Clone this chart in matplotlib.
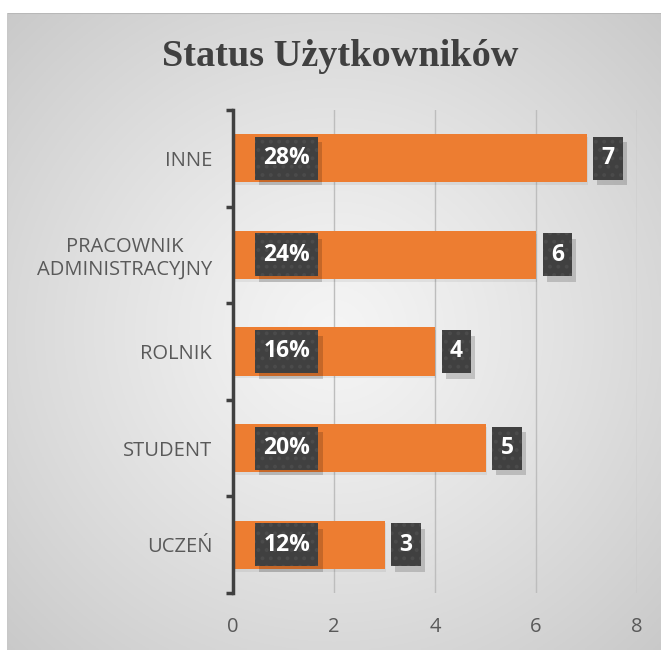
import numpy as np
import matplotlib
matplotlib.use('Agg')
import matplotlib.pyplot as plt
import matplotlib.patheffects as pe

# Dane
categories = ['UCZEŃ', 'STUDENT', 'ROLNIK', 'PRACOWNIK\nADMINISTRACYJNY', 'INNE']
counts = [3, 5, 4, 6, 7]
percents = ['12%', '20%', '16%', '24%', '28%']
xticks = [0, 2, 4, 6, 8]

plt.rcParams['hatch.linewidth'] = 1.6


class PlainShadow(pe.SimplePatchShadow):
    """Cień bez kreskowania (hatch) pola etykiety"""

    def _update_gc(self, gc, new_gc_dict):
        gc = super()._update_gc(gc, new_gc_dict)
        gc.set_hatch(None)
        return gc


W, H = 661, 650
fig = plt.figure(figsize=(W / 100, H / 100), dpi=100)
fig.patch.set_facecolor('white')

# Tło z gradientem radialnym
bg = fig.add_axes([7 / W, 0, 1 - 7 / W, 1 - 13 / H])
yy, xx = np.mgrid[-1:1:300j, -1:1:300j]
r = np.sqrt(xx ** 2 + yy ** 2) / np.sqrt(2)
grad = 0.96 - 0.17 * r ** 1.2
bg.imshow(np.dstack([grad] * 3), extent=[0, 1, 0, 1], aspect='auto')
bg.set_xlim(0, 1)
bg.set_ylim(0, 1)
bg.axis('off')
bg.plot([0, 1], [1, 1], color='#b8b8b8', lw=1.5, transform=bg.transAxes)
bg.plot([0, 0], [0, 1], color='#c8c8c8', lw=1.5, transform=bg.transAxes)

fig.text(340 / W, 1 - 57 / H, 'Status Użytkowników', ha='center', va='center',
         fontsize=27.5, fontweight='bold', family='Liberation Serif', color='#404040')

ax = fig.add_axes([233 / W, 1 - 593 / H, (637 - 233) / W, (593 - 110) / H])
ax.patch.set_alpha(0)
y = np.arange(len(categories))
ax.barh(y, counts, height=0.5, color='#ED7D31', zorder=3,
        path_effects=[pe.SimplePatchShadow(offset=(1, -2), shadow_rgbFace='#000000', alpha=0.06), pe.Normal()])

ax.set_xlim(0, 8)
ax.set_ylim(-0.5, len(categories) - 0.5)
ax.set_xticks(xticks)
ax.set_xticklabels([str(t) for t in xticks])
ax.set_yticks(y)
ax.set_yticklabels(categories, multialignment='center', linespacing=1.15)
ax.set_yticks(np.arange(-0.5, len(categories), 1.0), minor=True)
ax.grid(axis='x', color='#bdbdbd', lw=1, zorder=0)
for s in ['top', 'right', 'bottom']:
    ax.spines[s].set_visible(False)
ax.spines['left'].set_color('#404040')
ax.spines['left'].set_linewidth(2.5)
ax.spines['left'].set_zorder(4)
ax.tick_params(axis='y', which='major', length=0, pad=15, labelsize=14.5, labelcolor='#595959')
ax.tick_params(axis='y', which='minor', length=5, width=2.5, color='#404040')
ax.tick_params(axis='x', length=0, pad=17, labelsize=14.5, labelcolor='#595959')
for lab in ax.get_yticklabels() + ax.get_xticklabels():
    lab.set_family('Open Sans')

box = dict(boxstyle='square,pad=0.36', facecolor='#404040', edgecolor='#4b4b4b',
           hatch='..', linewidth=0, mutation_aspect=1.15)
shadow = [PlainShadow(offset=(3, -4), shadow_rgbFace='#000000', alpha=0.17), pe.Normal()]
lab_kw = dict(ha='left', va='center', fontsize=16.5, fontweight='bold', color='white',
              family='Open Sans', textcoords='offset pixels', bbox=box, zorder=5)

for yi, c, p in zip(y, counts, percents):
    t1 = ax.annotate(p, (0.6, yi), xytext=(0, 0), **lab_kw)
    t1.get_bbox_patch().set_path_effects(shadow)
    t2 = ax.annotate(str(c), (c, yi), xytext=(15, 0), **lab_kw)
    t2.get_bbox_patch().set_path_effects(shadow)

fig.savefig('out.png', dpi=100)
